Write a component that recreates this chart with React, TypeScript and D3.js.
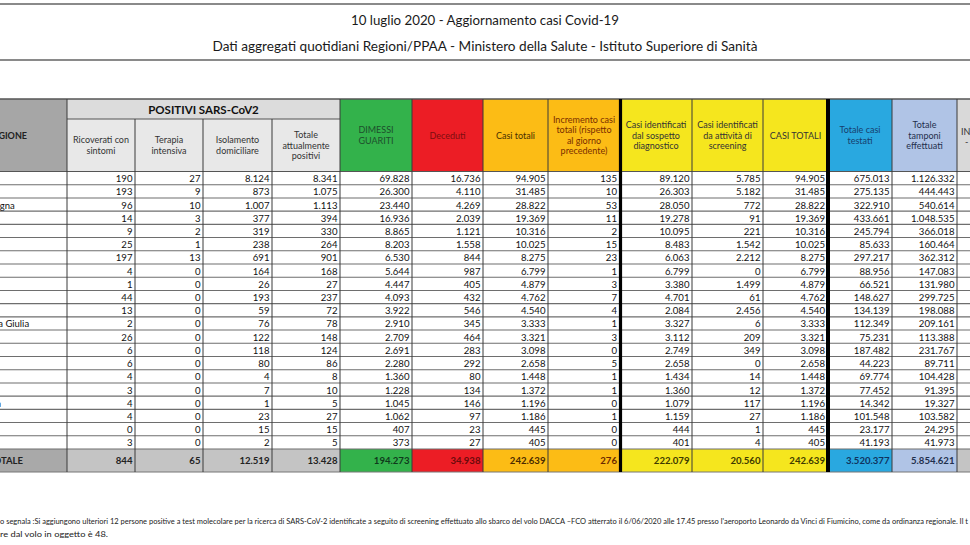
import React from "react";
import * as d3 from "d3";

const W = 970;
const H = 545;

const titolo = "10 luglio 2020 - Aggiornamento casi Covid-19";
const sottotitolo = "Dati aggregati quotidiani Regioni/PPAA - Ministero della Salute - Istituto Superiore di Sanità";

const regioni = [
  "Lombardia", "Piemonte", "Emilia-Romagna", "Veneto", "Toscana", "Liguria", "Lazio",
  "Marche", "Campania", "Puglia", "P.A. Trento", "Friuli Venezia Giulia", "Sicilia",
  "Abruzzo", "P.A. Bolzano", "Umbria", "Sardegna", "Valle d'Aosta", "Calabria", "Molise", "Basilicata",
];

const ricoverati = [190, 193, 96, 14, 9, 25, 197, 4, 1, 44, 13, 2, 26, 6, 6, 4, 3, 4, 4, 0, 3];
const terapia = [27, 9, 10, 3, 2, 1, 13, 0, 0, 0, 0, 0, 0, 0, 0, 0, 0, 0, 0, 0, 0];
const isolamento = [8124, 873, 1007, 377, 319, 238, 691, 164, 26, 193, 59, 76, 122, 118, 80, 4, 7, 1, 23, 15, 2];
const totalePositivi = [8341, 1075, 1113, 394, 330, 264, 901, 168, 27, 237, 72, 78, 148, 124, 86, 8, 10, 5, 27, 15, 5];
const dimessi = [69828, 26300, 23440, 16936, 8865, 8203, 6530, 5644, 4447, 4093, 3922, 2910, 2709, 2691, 2280, 1360, 1228, 1045, 1062, 407, 373];
const deceduti = [16736, 4110, 4269, 2039, 1121, 1558, 844, 987, 405, 432, 546, 345, 464, 283, 292, 80, 134, 146, 97, 23, 27];
const casiTotali = [94905, 31485, 28822, 19369, 10316, 10025, 8275, 6799, 4879, 4762, 4540, 3333, 3321, 3098, 2658, 1448, 1372, 1196, 1186, 445, 405];
const incremento = [135, 10, 53, 11, 2, 15, 23, 1, 3, 7, 4, 1, 3, 0, 5, 1, 1, 0, 1, 0, 0];
const sospetto = [89120, 26303, 28050, 19278, 10095, 8483, 6063, 6799, 3380, 4701, 2084, 3327, 3112, 2749, 2658, 1434, 1360, 1079, 1159, 444, 401];
const screening = [5785, 5182, 772, 91, 221, 1542, 2212, 0, 1499, 61, 2456, 6, 209, 349, 0, 14, 12, 117, 27, 1, 4];
const casiTotali2 = [94905, 31485, 28822, 19369, 10316, 10025, 8275, 6799, 4879, 4762, 4540, 3333, 3321, 3098, 2658, 1448, 1372, 1196, 1186, 445, 405];
const testati = [675013, 275135, 322910, 433661, 245794, 85633, 297217, 88956, 66521, 148627, 134139, 112349, 75231, 187482, 44223, 69774, 77452, 14342, 101548, 23177, 41193];
const tamponi = [1126332, 444443, 540614, 1048535, 366018, 160464, 362312, 147083, 131980, 299725, 198088, 209161, 113388, 231767, 89711, 104428, 91395, 19327, 103582, 24295, 41973];

const totali = [844, 65, 12519, 13428, 194273, 34938, 242639, 276, 222079, 20560, 242639, 3520377, 5854621];

const intestazioni = [
  ["Ricoverati con", "sintomi"],
  ["Terapia", "intensiva"],
  ["Isolamento", "domiciliare"],
  ["Totale", "attualmente", "positivi"],
  ["DIMESSI", "GUARITI"],
  ["Deceduti"],
  ["Casi totali"],
  ["Incremento casi", "totali (rispetto", "al giorno", "precedente)"],
  ["Casi identificati", "dal sospetto", "diagnostico"],
  ["Casi identificati", "da attività di", "screening"],
  ["CASI TOTALI"],
  ["Totale casi", "testati"],
  ["Totale", "tamponi", "effettuati"],
];

const nota1 = "o segnala :Si aggiungono ulteriori 12 persone positive a test molecolare per la ricerca di SARS-CoV-2 identificate a seguito di screening effettuato allo sbarco del volo DACCA –FCO atterrato il 6/06/2020 alle 17.45 presso l'aeroporto Leonardo da Vinci di Fiumicino, come da ordinanza regionale. Il t";
const nota2 = "re dal volo in oggetto è 48.";

const serie = [ricoverati, terapia, isolamento, totalePositivi, dimessi, deceduti, casiTotali, incremento, sospetto, screening, casiTotali2, testati, tamponi];

// layout (column edges)
const edges = [67, 135, 203, 272, 340, 412, 483, 548, 620, 692, 763, 828, 892, 957];
const headFill = ["#e8e8e8", "#e8e8e8", "#e8e8e8", "#e8e8e8", "#33b24b", "#ec1d25", "#fcbc15", "#fcbc15", "#f5e61e", "#f5e61e", "#f5e61e", "#29a8e0", "#b0c4e6"];
const headText = ["#333", "#333", "#333", "#333", "#1d4f2b", "#7d0d10", "#4a3000", "#7a2e00", "#333", "#333", "#333", "#17406e", "#1f2f4d"];
const totFill = ["#c4c4c4", "#c4c4c4", "#c4c4c4", "#c4c4c4", "#33b24b", "#ec1d25", "#fcbc15", "#fcbc15", "#f5e61e", "#f5e61e", "#f5e61e", "#29a8e0", "#b0c4e6"];
const totText = ["#222", "#222", "#222", "#222", "#0f3a1c", "#6b0a0c", "#4a2a00", "#6b2800", "#3d3a00", "#3d3a00", "#3d3a00", "#10335e", "#1f2f4d"];

const FONT = "Lato, 'Open Sans', sans-serif";

export default function App() {
  const headTop = 99;
  const subTop = 119;
  const headBottom = 171.5;
  const totTop = 449;
  const totBottom = 472;

  const y = d3.scaleBand<string>().domain(regioni).range([headBottom, totTop]).padding(0);
  const fmt = d3
    .formatLocale({ decimal: ",", thousands: ".", grouping: [3], currency: ["€", ""] })
    .format(",d");

  const lh = 10.4;

  return (
    <svg
      width={W}
      height={H}
      viewBox={`0 0 ${W} ${H}`}
      style={{ position: "absolute", left: 0, top: 0, background: "#fff", fontFamily: FONT }}
    >
      <rect x={0} y={0} width={W} height={H} fill="#fff" />
      {/* title block */}
      <line x1={0} x2={W} y1={4} y2={4} stroke="#8a8a8a" strokeWidth={2} />
      <line x1={0} x2={W} y1={60} y2={60} stroke="#8a8a8a" strokeWidth={2} />
      <text x={485} y={20} textAnchor="middle" dominantBaseline="central" fontSize={13.5} fill="#1a1a1a" textLength={268} lengthAdjust="spacingAndGlyphs">
        {titolo}
      </text>
      <text x={485} y={46} textAnchor="middle" dominantBaseline="central" fontSize={13.5} fill="#1a1a1a" textLength={545} lengthAdjust="spacingAndGlyphs">
        {sottotitolo}
      </text>

      {/* header backgrounds */}
      <rect x={-100} y={headTop} width={167} height={headBottom - headTop} fill="#a6a6a6" />
      <rect x={edges[0]} y={headTop} width={edges[4] - edges[0]} height={subTop - headTop} fill="#dcdcdc" />
      {serie.map((_, i) => (
        <rect
          key={"hf" + i}
          x={edges[i]}
          y={i < 4 ? subTop : headTop}
          width={edges[i + 1] - edges[i]}
          height={i < 4 ? headBottom - subTop : headBottom - headTop}
          fill={headFill[i]}
        />
      ))}
      <rect x={957} y={headTop} width={40} height={headBottom - headTop} fill="#d9d9d9" />

      {/* total row backgrounds */}
      <rect x={-100} y={totTop} width={167} height={totBottom - totTop} fill="#a9a9a9" />
      {serie.map((_, i) => (
        <rect key={"tf" + i} x={edges[i]} y={totTop} width={edges[i + 1] - edges[i]} height={totBottom - totTop} fill={totFill[i]} />
      ))}
      <rect x={957} y={totTop} width={40} height={totBottom - totTop} fill="#c4c4c4" />

      {/* row lines */}
      {regioni.map((r) => (
        <line key={"rl" + r} x1={0} x2={W} y1={(y(r) as number) + y.bandwidth()} y2={(y(r) as number) + y.bandwidth()} stroke="#6e6e6e" strokeWidth={1.1} />
      ))}
      <line x1={0} x2={W} y1={headTop} y2={headTop} stroke="#555" strokeWidth={1.3} />
      <line x1={edges[0]} x2={edges[4]} y1={subTop} y2={subTop} stroke="#555" strokeWidth={1} />
      <line x1={0} x2={W} y1={headBottom} y2={headBottom} stroke="#555" strokeWidth={1.1} />
      <line x1={0} x2={W} y1={totBottom} y2={totBottom} stroke="#777" strokeWidth={1} />

      {/* vertical lines */}
      {edges.map((e, i) => (
        <line
          key={"v" + i}
          x1={e}
          x2={e}
          y1={i >= 1 && i <= 3 ? subTop : headTop}
          y2={totBottom}
          stroke="#3a3a3a"
          strokeWidth={1}
        />
      ))}
      <line x1={620.5} x2={620.5} y1={headTop} y2={totBottom} stroke="#000" strokeWidth={3.2} />
      <line x1={828} x2={828} y1={headTop} y2={totBottom} stroke="#000" strokeWidth={4} />

      {/* header texts */}
      <text x={27} y={135} textAnchor="end" dominantBaseline="central" fontSize={9} fontWeight={700} fill="#222">
        REGIONE
      </text>
      <text x={(edges[0] + edges[4]) / 2} y={109.5} textAnchor="middle" dominantBaseline="central" fontSize={11.5} fontWeight={700} fill="#111">
        POSITIVI SARS-CoV2
      </text>
      {intestazioni.map((lines, i) => {
        const cx = (edges[i] + edges[i + 1]) / 2;
        const cy = i < 4 ? 145 : 135;
        return (
          <text key={"h" + i} textAnchor="middle" fontSize={9} fill={headText[i]}>
            {lines.map((l, j) => (
              <tspan key={j} x={cx} y={cy + (j - (lines.length - 1) / 2) * lh} dominantBaseline="central">
                {l}
              </tspan>
            ))}
          </text>
        );
      })}
      <text x={961} y={131} dominantBaseline="central" fontSize={9} fill="#333">
        INCREMENTO
      </text>
      <text x={965} y={141} dominantBaseline="central" fontSize={9} fill="#333">
        -
      </text>

      {/* region names */}
      {regioni.map((r) => (
        <text key={"n" + r} x={-52} y={(y(r) as number) + y.bandwidth() / 2 + 0.5} dominantBaseline="central" fontSize={9.5} fill="#111">
          {r}
        </text>
      ))}

      {/* data cells */}
      {serie.map((vals, i) =>
        vals.map((v, k) => (
          <text
            key={"d" + i + "-" + k}
            x={edges[i + 1] - (i === 7 || i === 10 ? 3 : 2.5)}
            y={(y(regioni[k]) as number) + y.bandwidth() / 2 + 0.5}
            textAnchor="end"
            dominantBaseline="central"
            fontSize={9.6}
            fill="#111"
          >
            {fmt(v)}
          </text>
        ))
      )}

      {/* totals */}
      <text x={23} y={(totTop + totBottom) / 2} textAnchor="end" dominantBaseline="central" fontSize={9.5} fontWeight={700} fill="#222">
        TOTALE
      </text>
      {totali.map((v, i) => (
        <text
          key={"t" + i}
          x={edges[i + 1] - (i === 7 || i === 10 ? 3 : 2.5)}
          y={(totTop + totBottom) / 2}
          textAnchor="end"
          dominantBaseline="central"
          fontSize={9.6}
          fontWeight={700}
          fill={totText[i]}
        >
          {fmt(v)}
        </text>
      ))}

      {/* notes */}
      <text x={0} y={521} dominantBaseline="central" fontSize={7.5} fill="#222" textLength={968} lengthAdjust="spacingAndGlyphs">
        {nota1}
      </text>
      <text x={0} y={534} dominantBaseline="central" fontSize={7.5} fill="#222" textLength={108} lengthAdjust="spacingAndGlyphs">
        {nota2}
      </text>
    </svg>
  );
}
